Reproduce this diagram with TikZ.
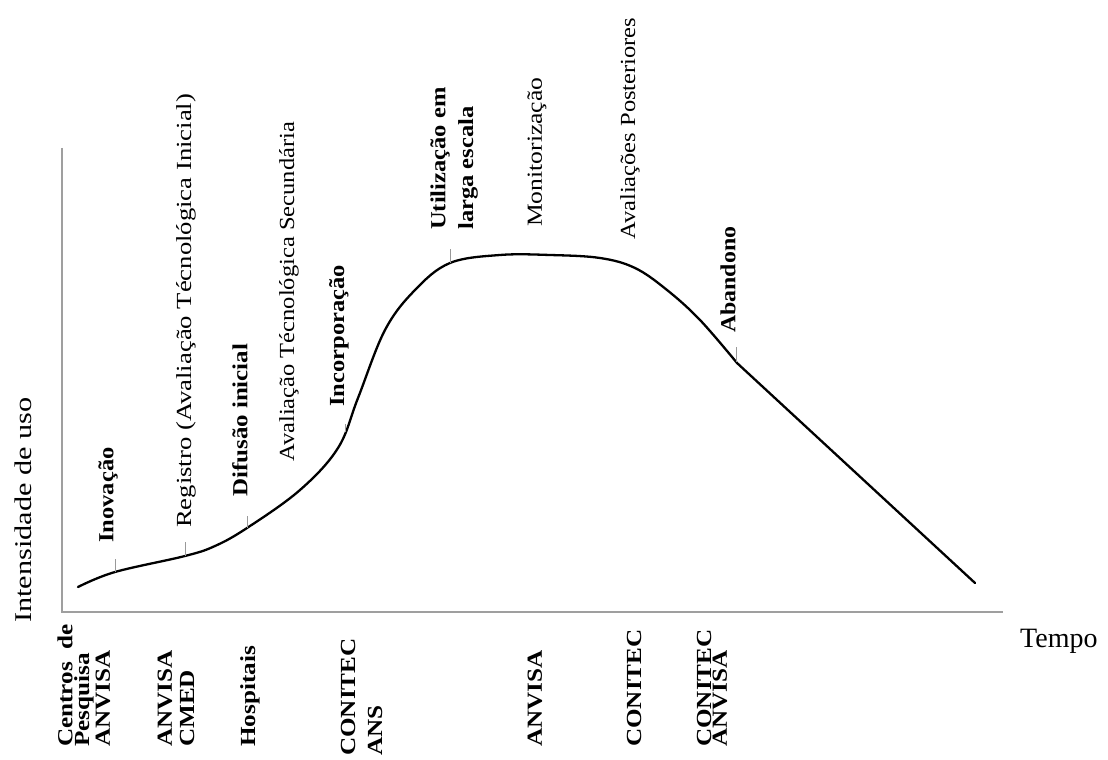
\documentclass[tikz,border=0pt]{standalone}
\usepackage{fontspec}
\setmainfont{Liberation Serif}
\usepackage{graphicx}
\newcommand{\stx}[2]{\scalebox{#1}[1]{#2}}
\tikzset{
  axisline/.style={draw=gray!75, line width=1.6pt},
  usecurve/.style={draw=black, line width=2.3pt, line cap=round, line join=round},
  tickline/.style={draw=gray!80, line width=0.9pt},
  toplbl/.style={rotate=90, anchor=west, inner sep=0pt, font=\fontsize{21.5}{21.5}\selectfont},
  toplblb/.style={toplbl, font=\fontsize{21.5}{21.5}\selectfont\bfseries},
  botlbl/.style={rotate=90, anchor=west, inner sep=0pt, font=\fontsize{21.5}{21.5}\selectfont\bfseries},
}
\begin{document}
\begin{tikzpicture}[x=1pt,y=1pt]
\useasboundingbox (0,0) rectangle (1108,760);
% axes
\coordinate (O) at (62,148);
\coordinate (Ytop) at (62,612);
\coordinate (Xend) at (1003,148);
\draw[axisline] (Ytop) -- (O) -- (Xend);
\node[rotate=90, anchor=west, inner sep=0pt, font=\fontsize{24}{24}\selectfont] (ylab) at (23,137) {\stx{1.26}{Intensidade de uso}};
\node[anchor=base west, inner sep=0pt, font=\fontsize{28}{28}\selectfont] (xlab) at (1020,112) {Tempo};
% curve
\coordinate (cfin) at (975,177);
\draw[usecurve] plot[smooth, tension=0.6] coordinates {(78,173) (115,188) (185,204) (215,214) (247,232) (300,270) (338,312) (358,362) (385,430) (415,470) (450,497) (500,505) (550,505) (600,502) (635,492) (667,470) (700,440) (737,397)} -- (cfin);
% ticks
\coordinate (t1a) at (115,188); \coordinate (t1b) at (115,201);
\coordinate (t2a) at (185,204); \coordinate (t2b) at (185,218);
\coordinate (t3a) at (247,232); \coordinate (t3b) at (247,244);
\coordinate (t4a) at (345,328); \coordinate (t4b) at (345,336);
\coordinate (t5a) at (450,497); \coordinate (t5b) at (450,511);
\coordinate (t6a) at (736,398); \coordinate (t6b) at (736,413);
\draw[tickline] (t1a) -- (t1b);
\draw[tickline] (t2a) -- (t2b);
\draw[tickline] (t3a) -- (t3b);
\draw[tickline] (t4a) -- (t4b);
\draw[tickline] (t5a) -- (t5b);
\draw[tickline] (t6a) -- (t6b);
% top labels
\node[toplblb] (inov) at (108,217) {\stx{1.14}{Inovação}};
\node[toplbl] (reg) at (186,232) {\stx{1.24}{Registro (Avaliação Técnológica Inicial)}};
\node[toplblb] (dif) at (240,263) {\stx{1.16}{Difusão inicial}};
\node[toplbl] (avsec) at (289,298) {\stx{1.14}{Avaliação Técnológica Secundária}};
\node[toplblb] (inc) at (339,353) {\stx{1.14}{Incorporação}};
\node[toplblb] (util1) at (440,530) {\stx{1.14}{Utilização em}};
\node[toplblb] (util2) at (468,530) {\stx{1.14}{larga escala}};
\node[toplbl] (mon) at (537,533) {\stx{1.19}{Monitorização}};
\node[toplbl] (avpost) at (630,520) {\stx{1.14}{Avaliações Posteriores}};
\node[toplblb] (aban) at (728,427) {\stx{1.11}{Abandono}};
% bottom labels
\node[botlbl] (b1a) at (65,13) {\stx{1.17}{Centros \ de}};
\node[botlbl] (b1b) at (84,13) {\stx{1.17}{Pesquisa}};
\node[botlbl] (b1c) at (103,13) {\stx{1.17}{ANVISA}};
\node[botlbl] (b2a) at (165,13) {\stx{1.17}{ANVISA}};
\node[botlbl] (b2b) at (187,13) {\stx{1.17}{CMED}};
\node[botlbl] (b3) at (250,13) {\stx{1.17}{Hospitais}};
\node[botlbl] (b4a) at (348,4) {\stx{1.17}{CONITEC}};
\node[botlbl] (b4b) at (375,4) {\stx{1.17}{ANS}};
\node[botlbl] (b5) at (535,13) {\stx{1.17}{ANVISA}};
\node[botlbl] (b6) at (634,13) {\stx{1.17}{CONITEC}};
\node[botlbl] (b7a) at (704,13) {\stx{1.17}{CONITEC}};
\node[botlbl] (b7b) at (720,13) {\stx{1.17}{ANVISA}};
\end{tikzpicture}
\end{document}
